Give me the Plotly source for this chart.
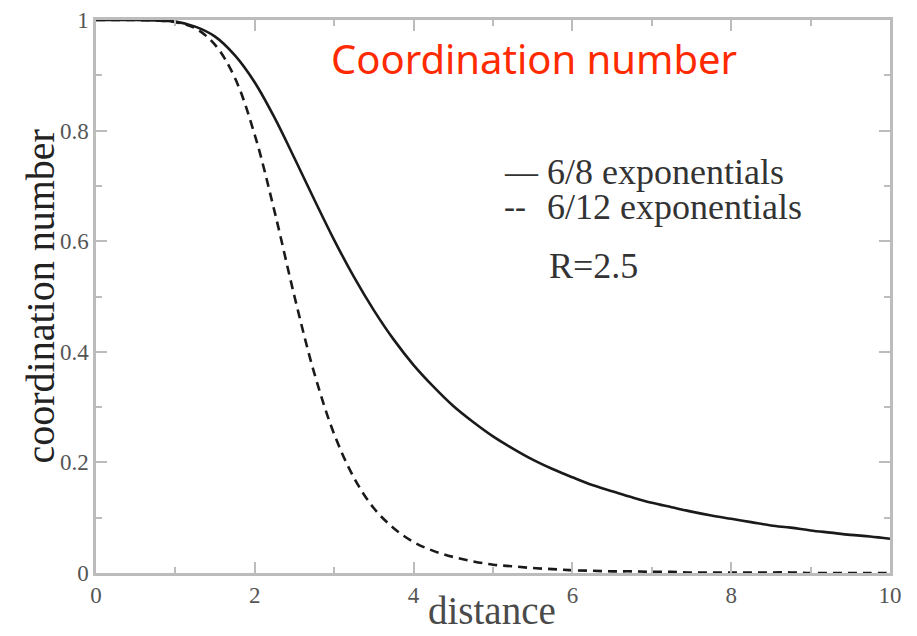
import plotly.graph_objects as go

# Distance grid (R = 2.5) and the two switching functions
distance = [0.0, 0.25, 0.5, 0.75, 1.0, 1.25, 1.5, 1.75, 2.0, 2.25, 2.5,
            2.75, 3.0, 3.25, 3.5, 3.75, 4.0, 4.25, 4.5, 4.75, 5.0,
            5.25, 5.5, 5.75, 6.0, 6.25, 6.5, 6.75, 7.0, 7.25, 7.5,
            7.75, 8.0, 8.25, 8.5, 8.75, 9.0, 9.25, 9.5, 9.75, 10.0]

coord_6_8 = [1.000, 1.000, 1.000, 0.999, 0.997, 0.988, 0.970, 0.936, 0.887, 0.823, 0.750,
             0.675, 0.602, 0.535, 0.475, 0.422, 0.376, 0.337, 0.302, 0.273, 0.247,
             0.225, 0.205, 0.188, 0.173, 0.159, 0.148, 0.137, 0.127, 0.119, 0.111,
             0.104, 0.098, 0.092, 0.086, 0.082, 0.077, 0.073, 0.069, 0.066, 0.062]

coord_6_12 = [1.000, 1.000, 1.000, 0.999, 0.996, 0.985, 0.955, 0.895, 0.792, 0.653, 0.500,
              0.361, 0.251, 0.172, 0.117, 0.081, 0.056, 0.040, 0.029, 0.021, 0.015,
              0.012, 0.009, 0.007, 0.005, 0.004, 0.003, 0.003, 0.002, 0.002, 0.001,
              0.001, 0.001, 0.001, 0.001, 0.001, 0.000, 0.000, 0.000, 0.000, 0.000]

x_ticks = [0, 2, 4, 6, 8, 10]
y_ticks = [0, 0.2, 0.4, 0.6, 0.8, 1]

SERIF = "Liberation Serif, Times New Roman, serif"
FRAME = "#bcbcbc"

fig = go.Figure()
fig.add_trace(go.Scatter(x=distance, y=coord_6_8, mode="lines", line_shape="spline",
                         line=dict(color="#1a1a1a", width=2.6), name="6/8 exponentials"))
fig.add_trace(go.Scatter(x=distance, y=coord_6_12, mode="lines", line_shape="spline",
                         line=dict(color="#1a1a1a", width=2.6, dash="9px,6px"),
                         name="6/12 exponentials"))

axis_common = dict(showgrid=False, zeroline=False, showline=True, linecolor=FRAME,
                   linewidth=2.5, mirror="ticks", ticks="inside", tickcolor=FRAME,
                   tickwidth=2, ticklen=11, automargin=False,
                   tickfont=dict(family=SERIF, size=23, color="#555555"))

fig.update_xaxes(range=[0, 10], tickvals=x_ticks,
                 minor=dict(ticks="inside", dtick=1, ticklen=6, tickcolor=FRAME, tickwidth=2),
                 **axis_common)
fig.update_yaxes(range=[0, 1], tickvals=y_ticks,
                 minor=dict(ticks="inside", dtick=0.1, ticklen=6, tickcolor=FRAME, tickwidth=2),
                 **axis_common)

# Axis titles
fig.add_annotation(x=0.499, y=-0.11, xref="paper", yref="paper", xanchor="center",
                   yanchor="bottom", showarrow=False, text="distance",
                   font=dict(family=SERIF, size=39, color="#4a4a4a"))
fig.add_annotation(x=-0.0705, y=0.5, xref="paper", yref="paper", xanchor="center",
                   yanchor="middle", showarrow=False, text="coordination number",
                   textangle=-90, font=dict(family=SERIF, size=40, color="#222222"))

# Key and parameter text inside the plot area
legend_font = dict(family=SERIF, size=36, color="#333333")
key_rows = [("—", "6/8 exponentials", 0.725), ("--", "6/12 exponentials", 0.662)]
for sample, label, ypos in key_rows:
    fig.add_annotation(x=0.511, y=ypos, xref="paper", yref="paper", xanchor="left",
                       yanchor="middle", showarrow=False, text=sample,
                       font=dict(family=SERIF, size=33, color="#333333"))
    fig.add_annotation(x=0.566, y=ypos, xref="paper", yref="paper", xanchor="left",
                       yanchor="middle", showarrow=False, text=label, font=legend_font)
fig.add_annotation(x=0.568, y=0.555, xref="paper", yref="paper", xanchor="left",
                   yanchor="middle", showarrow=False, text="R=2.5", font=legend_font)
fig.add_annotation(x=0.552, y=0.93, xref="paper", yref="paper", xanchor="center",
                   yanchor="middle", showarrow=False, text="Coordination number",
                   font=dict(family="Comic Sans MS, Noto Sans, sans-serif", size=40,
                             color="#ff2a00"))

fig.update_layout(width=917, height=636, showlegend=False,
                  plot_bgcolor="white", paper_bgcolor="white",
                  margin=dict(l=96, r=27, t=20, b=63))

fig.write_html("out.html")
